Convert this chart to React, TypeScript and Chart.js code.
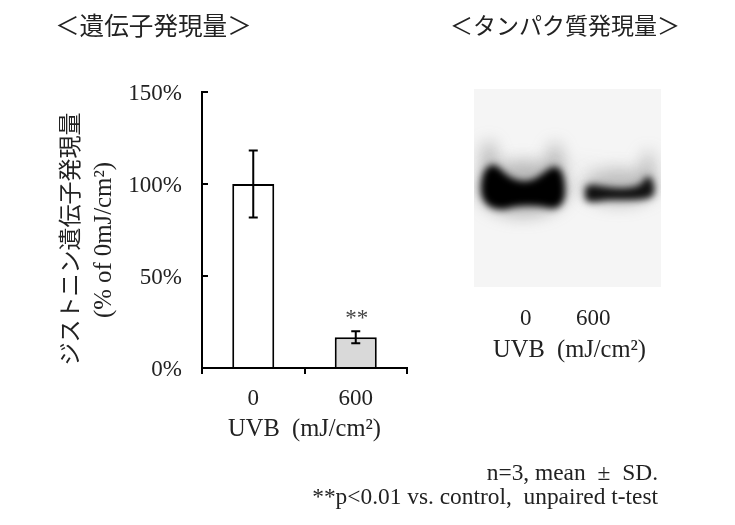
import { useEffect, useRef } from 'react'
import { Chart, registerables } from 'chart.js'

Chart.register(...registerables)

const doses = ['0', '600']
const expression = [100, 16.7]
const sd = [18.2, 3.3]
const barColors = ['#ffffff', '#d9d9d9']
const significance = ['', '**']
const yTicks = [0, 50, 100, 150]

const serif = '"Liberation Serif", "Noto Sans CJK JP", serif'
const ink = '#222222'

// error bars and the ** marks, placed through the chart's own scales
const errorBars = {
  id: 'errorBars',
  afterDatasetsDraw(chart: Chart) {
    const { ctx, scales } = chart
    const x = scales.x
    const y = scales.y
    ctx.save()
    ctx.strokeStyle = '#000'
    ctx.lineWidth = 2
    expression.forEach((v, i) => {
      const px = x.getPixelForValue(i)
      const top = y.getPixelForValue(v + sd[i])
      const bottom = y.getPixelForValue(v - sd[i])
      const cap = 4.5
      ctx.beginPath()
      ctx.moveTo(px, top)
      ctx.lineTo(px, bottom)
      ctx.moveTo(px - cap, top)
      ctx.lineTo(px + cap, top)
      ctx.moveTo(px - cap, bottom)
      ctx.lineTo(px + cap, bottom)
      ctx.stroke()
      if (significance[i]) {
        ctx.fillStyle = '#444'
        ctx.font = '23px ' + serif
        ctx.textAlign = 'center'
        ctx.textBaseline = 'alphabetic'
        ctx.fillText(significance[i], px + 1, top - 6)
      }
    })
    ctx.restore()
  },
}

function drawBlot(c: HTMLCanvasElement) {
  const ctx = c.getContext('2d')
  if (!ctx) return
  ctx.fillStyle = '#f5f5f5'
  ctx.fillRect(0, 0, c.width, c.height)

  // faint halo round the bands
  ctx.filter = 'blur(8px)'
  ctx.fillStyle = 'rgba(110,110,110,0.45)'
  ctx.beginPath()
  ctx.ellipse(15, 72, 8, 20, 0, 0, Math.PI * 2)
  ctx.ellipse(81, 74, 8, 20, 0, 0, Math.PI * 2)
  ctx.ellipse(174, 80, 6, 18, 0, 0, Math.PI * 2)
  ctx.fill()
  ctx.beginPath()
  ctx.ellipse(49, 100, 46, 28, 0, 0, Math.PI * 2)
  ctx.fill()
  ctx.fillStyle = 'rgba(110,110,110,0.4)'
  ctx.beginPath()
  ctx.ellipse(145, 98, 38, 18, 0, 0, Math.PI * 2)
  ctx.fill()

  // left band
  ctx.filter = 'blur(3.5px)'
  ctx.fillStyle = '#000'
  ctx.beginPath()
  ctx.moveTo(7, 100)
  ctx.bezierCurveTo(7, 84, 13, 75, 20, 76)
  ctx.bezierCurveTo(28, 78, 32, 91, 50, 92)
  ctx.bezierCurveTo(66, 92, 72, 78, 81, 78)
  ctx.bezierCurveTo(88, 78, 91, 90, 91, 102)
  ctx.bezierCurveTo(91, 116, 84, 121, 74, 119)
  ctx.bezierCurveTo(62, 116, 44, 116, 32, 120)
  ctx.bezierCurveTo(18, 122, 7, 115, 7, 100)
  ctx.closePath()
  ctx.fill()

  // right band
  ctx.filter = 'blur(3.5px)'
  ctx.fillStyle = '#111'
  ctx.beginPath()
  ctx.moveTo(111, 99)
  ctx.bezierCurveTo(116, 92, 124, 98, 145, 99)
  ctx.bezierCurveTo(160, 99, 168, 97, 172, 88)
  ctx.bezierCurveTo(179, 86, 181, 98, 180, 105)
  ctx.bezierCurveTo(176, 112, 160, 111, 140, 111)
  ctx.bezierCurveTo(125, 111, 116, 116, 111, 110)
  ctx.closePath()
  ctx.fill()
  ctx.filter = 'none'
}

const label = (left: number, top: number, size: number, extra = {}) => ({
  position: 'absolute' as const,
  left,
  top,
  fontSize: size,
  lineHeight: 1,
  whiteSpace: 'pre' as const,
  color: ink,
  fontFamily: serif,
  ...extra,
})

const rotated = { transform: 'translate(-50%, -50%) rotate(-90deg)' }

export default function App() {
  const ref = useRef<HTMLCanvasElement>(null)
  const blotRef = useRef<HTMLCanvasElement>(null)

  useEffect(() => {
    if (blotRef.current) drawBlot(blotRef.current)
    if (!ref.current) return
    const chart = new Chart(ref.current, {
      type: 'bar',
      data: {
        labels: doses,
        datasets: [
          {
            data: expression,
            backgroundColor: barColors,
            borderColor: '#000',
            borderWidth: 2,
            borderSkipped: 'bottom',
            categoryPercentage: 1,
            barPercentage: 0.41,
          },
        ],
      },
      options: {
        animation: false,
        responsive: false,
        maintainAspectRatio: false,
        layout: { padding: { left: 32, top: 92, right: 328, bottom: 81 } },
        plugins: { legend: { display: false }, tooltip: { enabled: false } },
        scales: {
          x: {
            grid: { offset: true, drawOnChartArea: false, color: '#000', lineWidth: 2, tickLength: 6 },
            border: { color: '#000', width: 2 },
            ticks: { color: ink, padding: 11, maxRotation: 0, font: { family: serif, size: 23 } },
            title: {
              display: true,
              text: 'UVB  (mJ/cm²)',
              color: ink,
              padding: { top: 6, bottom: 0 },
              font: { family: serif, size: 24.5 },
            },
            afterFit: (s: any) => { s.height = 76 },
          },
          y: {
            min: 0,
            max: 150,
            afterBuildTicks: (s: any) => { s.ticks = yTicks.map((value) => ({ value })) },
            grid: { drawOnChartArea: false, color: '#000', lineWidth: 2, tickLength: -6 },
            border: { color: '#000', width: 2 },
            ticks: { color: ink, padding: 26, labelOffset: 2, callback: (v: any) => v + '%', font: { family: serif, size: 23 } },
            afterFit: (s: any) => { s.width = 170 },
          },
        },
      },
      plugins: [errorBars],
    })
    return () => chart.destroy()
  }, [])

  return (
    <div style={{ position: 'absolute', left: 0, top: 0, width: 735, height: 525, background: '#fff', overflow: 'hidden' }}>
      <canvas ref={ref} width={735} height={525} style={{ position: 'absolute', left: 0, top: 0 }} />
      <canvas ref={blotRef} width={187} height={198} style={{ position: 'absolute', left: 474, top: 89 }} />
      <div style={label(55, 15, 24.6)}>＜遺伝子発現量＞</div>
      <div style={label(450, 15, 23)}>＜タンパク質発現量＞</div>
      <div style={label(70, 239, 23, rotated)}>ジストニン遺伝子発現量</div>
      <div style={label(103, 240, 24.8, rotated)}>(% of 0mJ/cm²)</div>
      <div style={label(520, 306, 23)}>0</div>
      <div style={label(576, 306, 23)}>600</div>
      <div style={label(493, 337, 24.5)}>UVB  (mJ/cm²)</div>
      <div style={label(0, 461, 23.4, { width: 658, textAlign: 'right' })}>
        n=3, mean<span style={{ margin: '0 6px' }}> ± </span>SD.
      </div>
      <div style={label(0, 485, 23.4, { width: 658, textAlign: 'right' })}>**p&lt;0.01 vs. control,  unpaired t-test</div>
    </div>
  )
}
